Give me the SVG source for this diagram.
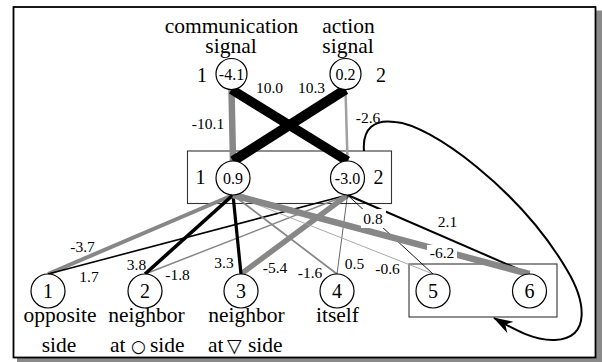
<svg xmlns="http://www.w3.org/2000/svg" width="602" height="362" viewBox="0 0 602 362">
  <style>
    .word { font-size: 21.5px; text-anchor: middle; }
    .idx { font-size: 20px; text-anchor: middle; }
    .val { font-size: 16px; text-anchor: middle; }
    .w { font-size: 15.5px; text-anchor: middle; }
    .node { fill: #fff; stroke: #000; stroke-width: 1.2; }
    .box { fill: none; stroke: #333; stroke-width: 1.1; }
    .pos { stroke: #000; fill: none; }
    .neg { stroke: #878787; fill: none; }
    .neg-light { stroke: #a0a0a0; fill: none; }
    .loop { stroke: #000; stroke-width: 2; fill: none; }
  </style>
  <defs>
    <marker id="arrow" markerUnits="userSpaceOnUse" markerWidth="20" markerHeight="13" viewBox="0 0 20 13" refX="19" refY="6.5" orient="auto">
      <path d="M0,0 L20,6.5 L0,13 L6,6.5 z" fill="#000"/>
    </marker>
  </defs>

  <!-- frame with drop shadow -->
  <rect x="17" y="10.5" width="585" height="351.5" fill="#8a8a8a"/>
  <rect x="13.5" y="7" width="582" height="350.5" fill="#fff" stroke="#000" stroke-width="1.8"/>

  <!-- layer boxes -->
  <rect id="hidden-box" class="box" x="187.5" y="151" width="204" height="52.5"/>
  <rect id="group-box" class="box" x="409" y="264" width="148" height="53"/>

  <g font-family="'Liberation Serif', 'Times New Roman', 'DejaVu Serif', serif" fill="#000">
  <g id="connectors">
    <!-- inputs to hidden -->
    <line class="neg" x1="231.5" y1="89.5" x2="233" y2="161" stroke-width="6.5"/>
    <line class="neg-light" x1="345.5" y1="89.5" x2="347.5" y2="161" stroke-width="2.5"/>
    <line class="pos" x1="231.5" y1="89.5" x2="347.5" y2="161" stroke-width="9.5"/>
    <line class="pos" x1="345.5" y1="89.5" x2="233" y2="161" stroke-width="10"/>

    <!-- hidden to outputs -->
    <line class="neg" x1="233" y1="195" x2="48" y2="274" stroke-width="4"/>
    <line class="pos" x1="347.5" y1="195" x2="48" y2="274" stroke-width="1.6"/>
    <line class="neg" x1="347.5" y1="195" x2="145" y2="274" stroke-width="1.5"/>
    <line class="pos" x1="233" y1="195" x2="145" y2="274" stroke-width="3.6"/>
    <line class="neg" x1="347.5" y1="195" x2="241" y2="274" stroke-width="5.5"/>
    <line class="pos" x1="233" y1="195" x2="241" y2="274" stroke-width="3.2"/>
    <line class="neg" x1="233" y1="195" x2="337" y2="274" stroke-width="1.8"/>
    <line class="pos" x1="347.5" y1="195" x2="337" y2="274" stroke-width="0.6"/>
    <line class="neg-light" x1="233" y1="195" x2="433" y2="274" stroke-width="0.9"/>
    <line class="pos" x1="347.5" y1="195" x2="433" y2="274" stroke-width="0.9"/>
    <line class="pos" x1="347.5" y1="195" x2="529.5" y2="274" stroke-width="2"/>
    <line class="neg" x1="233" y1="195" x2="529.5" y2="274" stroke-width="6.5"/>

    <!-- recurrent loop from group back to hidden box -->
    <path class="loop" marker-end="url(#arrow)" d="M364,151 C362,128 375,119 395,122 C430,124 520,190 567,270 C585,300 592,338 555,340 C535,341 515,330 494,318"/>

    <!-- weight labels -->
    <text class="w" x="269.5" y="93">10.0</text>
    <text class="w" x="311.5" y="93">10.3</text>
    <text class="w" x="208" y="128.5">-10.1</text>
    <text class="w" x="368" y="123">-2.6</text>
    <text class="w" x="82.5" y="252">-3.7</text>
    <text class="w" x="89" y="282">1.7</text>
    <text class="w" x="136.5" y="269.5">3.8</text>
    <text class="w" x="177.5" y="279.5">-1.8</text>
    <text class="w" x="224" y="267.5">3.3</text>
    <text class="w" x="275" y="273">-5.4</text>
    <text class="w" x="310" y="278">-1.6</text>
    <text class="w" x="354.5" y="268.5">0.5</text>
    <text class="w" x="387.5" y="273.5">-0.6</text>
    <rect x="361" y="209" width="25" height="19" fill="#fff"/>
    <text class="w" x="373" y="223.5">0.8</text>
    <text class="w" x="447.5" y="227">2.1</text>
    <rect x="427" y="245" width="30" height="15" fill="#fff"/>
    <text class="w" x="442" y="257.5">-6.2</text>
  </g>

  <!-- input units -->
  <g id="in-1">
    <text class="word" x="231.5" y="33">communication</text>
    <text class="word" x="231" y="53">signal</text>
    <text class="idx" x="202" y="82">1</text>
    <circle class="node" cx="231.5" cy="74" r="15.5"/>
    <text class="val" x="231.5" y="80">-4.1</text>
  </g>
  <g id="in-2">
    <text class="word" x="348.5" y="33">action</text>
    <text class="word" x="348" y="53">signal</text>
    <text class="idx" x="381" y="82">2</text>
    <circle class="node" cx="345.5" cy="74" r="15.5"/>
    <text class="val" x="345.5" y="80">0.2</text>
  </g>

  <!-- hidden units -->
  <g id="hidden-1">
    <text class="idx" x="200.5" y="183.5">1</text>
    <circle class="node" cx="233" cy="178" r="17"/>
    <text class="val" x="233" y="183.5">0.9</text>
  </g>
  <g id="hidden-2">
    <text class="idx" x="378.5" y="183.5">2</text>
    <circle class="node" cx="347.5" cy="178" r="17"/>
    <text class="val" x="347.5" y="183.5">-3.0</text>
  </g>

  <!-- output units -->
  <g id="out-1">
    <circle class="node" cx="48" cy="291" r="17"/>
    <text class="idx" x="48" y="297.5">1</text>
    <text class="word" x="60" y="322">opposite</text>
    <text class="word" x="59" y="352">side</text>
  </g>
  <g id="out-2">
    <circle class="node" cx="145" cy="291" r="17"/>
    <text class="idx" x="145" y="297.5">2</text>
    <text class="word" x="146.5" y="322">neighbor</text>
    <text font-size="21.5" y="352"><tspan x="110">at</tspan><tspan font-family="'DejaVu Sans', sans-serif" x="131" font-size="17">○</tspan><tspan x="150">side</tspan></text>
  </g>
  <g id="out-3">
    <circle class="node" cx="241" cy="291" r="17"/>
    <text class="idx" x="241" y="297.5">3</text>
    <text class="word" x="246.5" y="322">neighbor</text>
    <text font-size="21.5" y="352"><tspan x="208">at</tspan><tspan font-family="'DejaVu Sans', sans-serif" x="227" font-size="19">▽</tspan><tspan x="248">side</tspan></text>
  </g>
  <g id="out-4">
    <circle class="node" cx="337" cy="291" r="17"/>
    <text class="idx" x="337" y="297.5">4</text>
    <text class="word" x="337.5" y="322">itself</text>
  </g>
  <g id="out-5">
    <circle class="node" cx="433" cy="291" r="17"/>
    <text class="idx" x="433" y="297.5">5</text>
  </g>
  <g id="out-6">
    <circle class="node" cx="529.5" cy="291" r="17"/>
    <text class="idx" x="529.5" y="297.5">6</text>
  </g>
  </g>
</svg>
